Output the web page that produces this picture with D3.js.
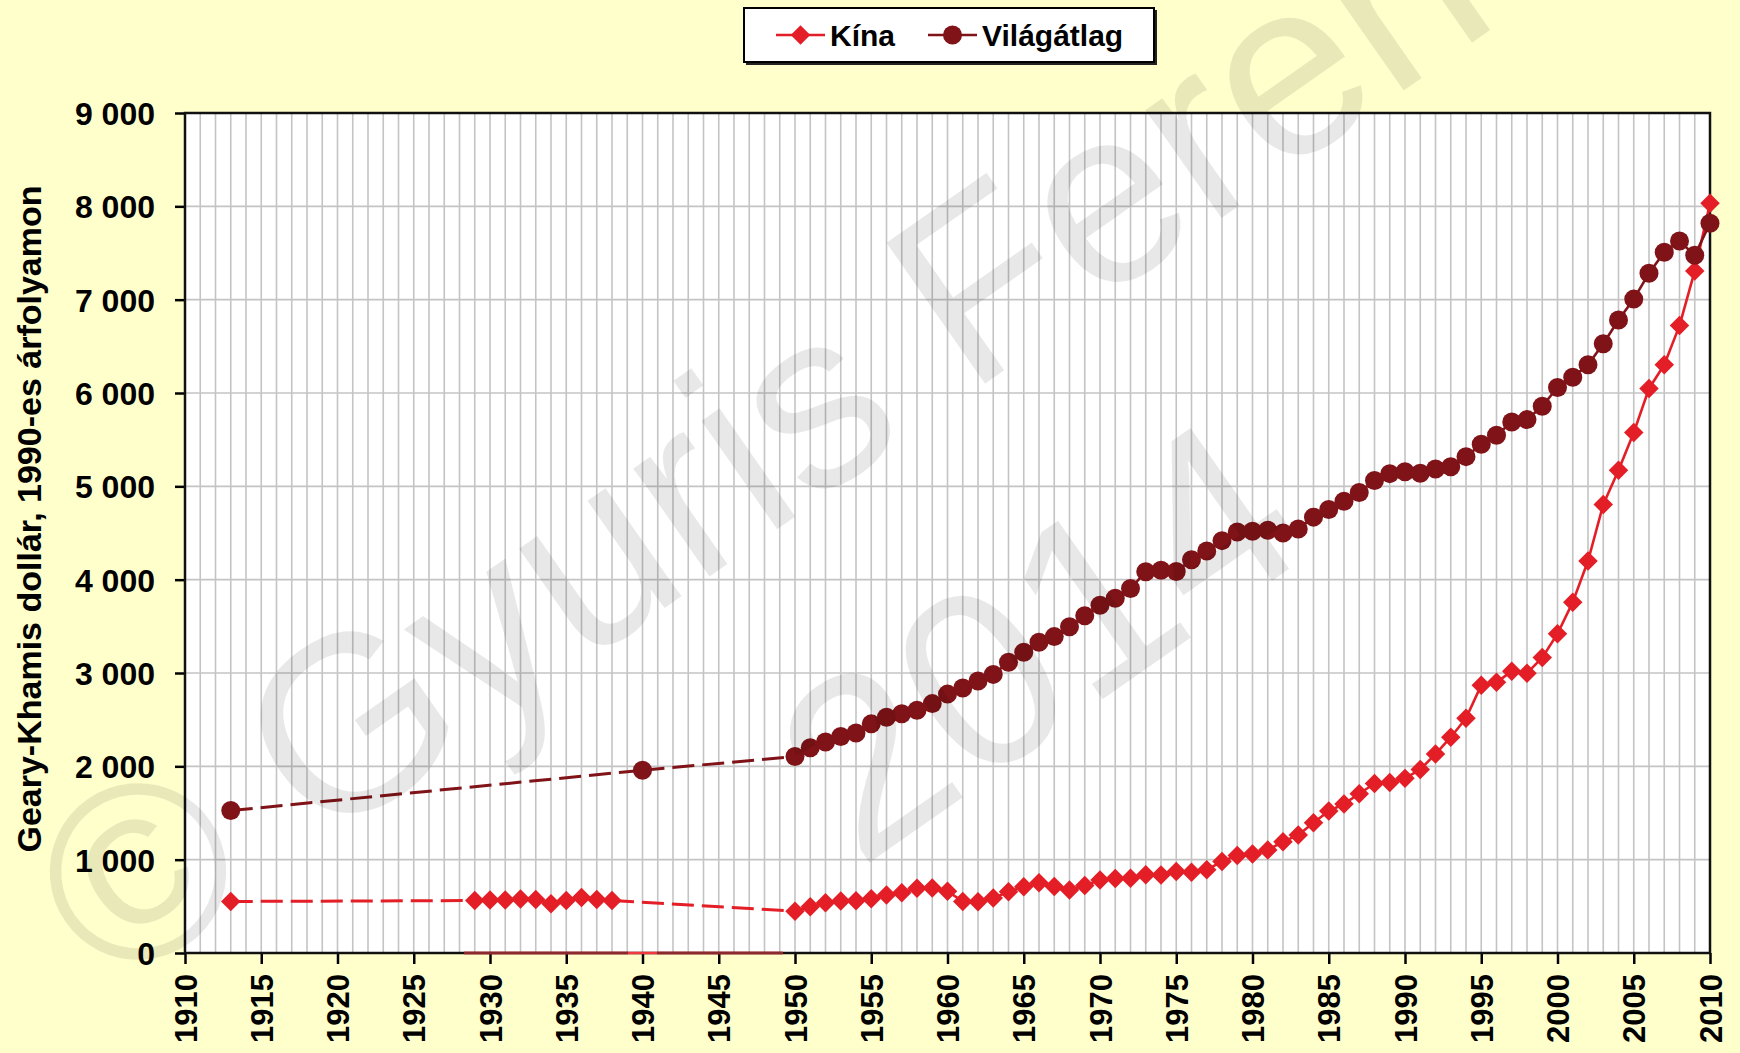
<!DOCTYPE html>
<html>
<head>
<meta charset="utf-8">
<script src="https://cdn.jsdelivr.net/npm/d3@7"></script>
<style>
body { margin: 0; background: #FFFFCC; }
svg text { font-family: 'Liberation Sans', Arial, sans-serif; }
</style>
</head>
<body>
<svg id="main_svg"></svg>
<script>
const WIDTH = 1740;
const HEIGHT = 1053;
const MARGIN_LEFT = 185;
const MARGIN_RIGHT = 30;
const MARGIN_TOP = 113;
const MARGIN_BOTTOM = 100;

const CHINA_COLOR = '#E41E26';
const WORLD_COLOR = '#7F1318';

// Data (1990 Geary-Khamis dollars per capita)
const chinaYears = [1913, 1929, 1930, 1931, 1932, 1933, 1934, 1935, 1936, 1937, 1938,
	1950, 1951, 1952, 1953, 1954, 1955, 1956, 1957, 1958, 1959,
	1960, 1961, 1962, 1963, 1964, 1965, 1966, 1967, 1968, 1969,
	1970, 1971, 1972, 1973, 1974, 1975, 1976, 1977, 1978, 1979,
	1980, 1981, 1982, 1983, 1984, 1985, 1986, 1987, 1988, 1989,
	1990, 1991, 1992, 1993, 1994, 1995, 1996, 1997, 1998, 1999,
	2000, 2001, 2002, 2003, 2004, 2005, 2006, 2007, 2008, 2009, 2010];
const chinaValues = [552, 562, 568, 567, 578, 574, 528, 562, 595, 573, 562,
	448, 495, 538, 556, 560, 582, 622, 645, 693, 697,
	662, 553, 550, 590, 655, 710, 753, 712, 675, 722,
	783, 799, 802, 839, 836, 872, 865, 893, 980, 1045,
	1061, 1103, 1192, 1265, 1396, 1522, 1597, 1706, 1816, 1827,
	1871, 1967, 2132, 2312, 2515, 2870, 2900, 3020, 2998, 3165,
	3421, 3759, 4200, 4805, 5172, 5576, 6048, 6303, 6722, 7308, 8033];

const worldYears = [1913, 1940,
	1950, 1951, 1952, 1953, 1954, 1955, 1956, 1957, 1958, 1959,
	1960, 1961, 1962, 1963, 1964, 1965, 1966, 1967, 1968, 1969,
	1970, 1971, 1972, 1973, 1974, 1975, 1976, 1977, 1978, 1979,
	1980, 1981, 1982, 1983, 1984, 1985, 1986, 1987, 1988, 1989,
	1990, 1991, 1992, 1993, 1994, 1995, 1996, 1997, 1998, 1999,
	2000, 2001, 2002, 2003, 2004, 2005, 2006, 2007, 2008, 2009, 2010];
const worldValues = [1526, 1958,
	2105, 2200, 2260, 2320, 2358, 2455, 2525, 2564, 2600, 2672,
	2774, 2840, 2914, 2985, 3115, 3222, 3330, 3390, 3495, 3614,
	3726, 3800, 3905, 4085, 4100, 4088, 4214, 4308, 4418, 4510,
	4518, 4530, 4500, 4542, 4670, 4752, 4840, 4934, 5062, 5136,
	5157, 5141, 5185, 5210, 5318, 5450, 5547, 5690, 5715, 5858,
	6059, 6169, 6303, 6528, 6782, 7006, 7284, 7509, 7628, 7475, 7819];

// Zero-valued stretches that the original draws along the axis (years)
const chinaZeroSpan = [1928.3, 1949.2];
const worldZeroSpans = [[1928.3, 1939.05], [1940.95, 1949.2]];

const xTicks = d3.range(1910, 2011, 5);
const yTicks = d3.range(0, 9001, 1000);

const legendItems = ['Kína', 'Világátlag'];
const watermarkLines = ['© Gyuris Ferenc', '2014'];

const svg = d3.select('#main_svg').attr('width', WIDTH).attr('height', HEIGHT);

svg.append('rect').attr('width', WIDTH).attr('height', HEIGHT).attr('fill', '#FFFFCC');

const x = d3.scaleLinear().domain([1910, 2010]).range([MARGIN_LEFT, WIDTH - MARGIN_RIGHT]);
const y = d3.scaleLinear().domain([0, 9000]).range([HEIGHT - MARGIN_BOTTOM, MARGIN_TOP]);

const plotW = x(2010) - x(1910);
const plotH = y(0) - y(9000);

svg.append('rect')
	.attr('x', x(1910)).attr('y', y(9000))
	.attr('width', plotW).attr('height', plotH)
	.attr('fill', '#FFFFFF');

// Grid
svg.append('g').selectAll('line')
	.data(d3.range(1911, 2010))
	.enter().append('line')
	.attr('x1', d => x(d)).attr('x2', d => x(d))
	.attr('y1', y(9000)).attr('y2', y(0))
	.attr('stroke', '#C4C4C4').attr('stroke-width', 1.6);

svg.append('g').selectAll('line')
	.data(yTicks.slice(1, -1))
	.enter().append('line')
	.attr('x1', x(1910)).attr('x2', x(2010))
	.attr('y1', d => y(d)).attr('y2', d => y(d))
	.attr('stroke', '#C4C4C4').attr('stroke-width', 1.6);

// Axes
const xAxis = svg.append('g')
	.attr('transform', `translate(0,${y(0)})`)
	.call(d3.axisBottom(x).tickValues(xTicks).tickSize(11).tickFormat(d => d));
xAxis.select('.domain').remove();
xAxis.selectAll('line').attr('stroke', '#000').attr('stroke-width', 2.5);
xAxis.selectAll('text')
	.attr('transform', 'rotate(-90)')
	.attr('text-anchor', 'end')
	.attr('x', -21).attr('y', 0).attr('dy', '0.36em')
	.attr('font-size', '31px').attr('font-weight', 'bold')
	.attr('font-family', "'Liberation Sans', Arial, sans-serif")
	.attr('fill', '#000');

const yAxis = svg.append('g')
	.attr('transform', `translate(${x(1910)},0)`)
	.call(d3.axisLeft(y).tickValues(yTicks).tickSize(10).tickPadding(20)
		.tickFormat(d => d3.format(',')(d).replace(',', ' ')));
yAxis.select('.domain').remove();
yAxis.selectAll('line').attr('stroke', '#000').attr('stroke-width', 2.5);
yAxis.selectAll('text')
	.attr('font-size', '32px').attr('font-weight', 'bold')
	.attr('font-family', "'Liberation Sans', Arial, sans-serif")
	.attr('dy', '0.36em')
	.attr('fill', '#000');

svg.append('text')
	.attr('transform', `translate(41, ${(y(0) + y(9000)) / 2 - 14}) rotate(-90)`)
	.attr('text-anchor', 'middle')
	.attr('font-size', '34px').attr('font-weight', 'bold')
	.text('Geary-Khamis dollár, 1990-es árfolyamon');

// Plot border
svg.append('rect')
	.attr('x', x(1910)).attr('y', y(9000))
	.attr('width', plotW).attr('height', plotH)
	.attr('fill', 'none').attr('stroke', '#111').attr('stroke-width', 2.5);

// Zero stretches along the axis
svg.append('line')
	.attr('x1', x(chinaZeroSpan[0])).attr('x2', x(chinaZeroSpan[1]))
	.attr('y1', y(0)).attr('y2', y(0))
	.attr('stroke', '#F03A40').attr('stroke-width', 2.5);
svg.append('g').selectAll('line')
	.data(worldZeroSpans)
	.enter().append('line')
	.attr('x1', d => x(d[0])).attr('x2', d => x(d[1]))
	.attr('y1', y(0)).attr('y2', y(0))
	.attr('stroke', '#8A2A2E').attr('stroke-width', 2.5);

const line = d3.line().x(d => x(d[0])).y(d => y(d[1]));

const plot_series = (years, values, color, marker) => {
	const group = svg.append('g');
	const points = years.map((e, i) => [e, values[i]]);

	// Solid between consecutive years, dashed across gaps
	for (let i = 0; i < points.length - 1; i++) {
		const gap = points[i + 1][0] - points[i][0] > 1;
		group.append('path')
			.datum([points[i], points[i + 1]])
			.attr('d', line)
			.attr('fill', 'none')
			.attr('stroke', color)
			.attr('stroke-width', gap ? 3 : 2.6)
			.attr('stroke-dasharray', gap ? '22,8' : null);
	}

	if (marker === 'diamond') {
		group.selectAll('.mk')
			.data(points)
			.enter().append('path')
			.attr('class', 'mk')
			.attr('d', d3.symbol(d3.symbolSquare, 190)())
			.attr('transform', d => `translate(${x(d[0])},${y(d[1])}) rotate(45)`)
			.attr('fill', color);
	} else {
		group.selectAll('.mk')
			.data(points)
			.enter().append('circle')
			.attr('class', 'mk')
			.attr('cx', d => x(d[0])).attr('cy', d => y(d[1]))
			.attr('r', 9.5)
			.attr('fill', color);
	}
};

plot_series(chinaYears, chinaValues, CHINA_COLOR, 'diamond');
plot_series(worldYears, worldValues, WORLD_COLOR, 'circle');

// Legend
const legend = svg.append('g');
legend.append('rect')
	.attr('x', 746).attr('y', 10).attr('width', 411).attr('height', 55)
	.attr('fill', '#222');
legend.append('rect')
	.attr('x', 744).attr('y', 8).attr('width', 410).attr('height', 54)
	.attr('fill', '#fff').attr('stroke', '#000').attr('stroke-width', 2);

const legendX = [776, 928];
const legendColors = [CHINA_COLOR, WORLD_COLOR];
legendItems.forEach((name, i) => {
	const lx = legendX[i];
	legend.append('line')
		.attr('x1', lx).attr('x2', lx + 49)
		.attr('y1', 35).attr('y2', 35)
		.attr('stroke', legendColors[i]).attr('stroke-width', 2.6);
	if (i === 0) {
		legend.append('path')
			.attr('d', d3.symbol(d3.symbolSquare, 190)())
			.attr('transform', `translate(${lx + 24.5},35) rotate(45)`)
			.attr('fill', legendColors[i]);
	} else {
		legend.append('circle')
			.attr('cx', lx + 24.5).attr('cy', 35).attr('r', 9.5)
			.attr('fill', legendColors[i]);
	}
	legend.append('text')
		.attr('x', lx + 54).attr('y', 46)
		.attr('font-size', '30px').attr('font-weight', 'bold')
		.attr('fill', '#000')
		.text(name);
});

// Watermark
const mark = svg.append('g')
	.attr('transform', 'translate(112, 995) rotate(-35)')
	.attr('fill', '#000')
	.attr('fill-opacity', 0.09)
	.style('pointer-events', 'none');
mark.append('text')
	.attr('x', 0).attr('y', 0)
	.attr('font-size', '250px')
	.text(watermarkLines[0]);
mark.append('text')
	.attr('x', 684).attr('y', 326)
	.attr('font-size', '250px')
	.text(watermarkLines[1]);
</script>
</body>
</html>
